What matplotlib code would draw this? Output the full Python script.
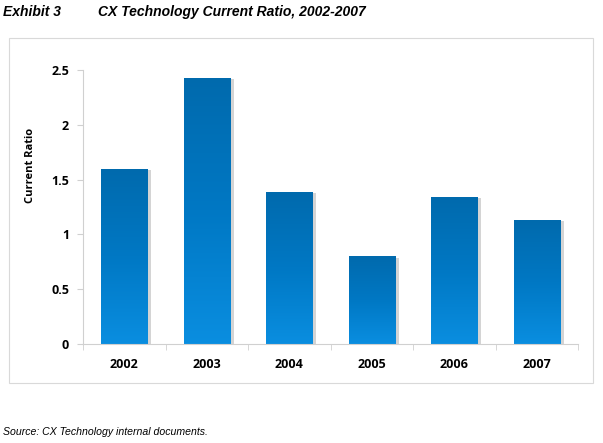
import matplotlib
matplotlib.use("Agg")
import matplotlib.pyplot as plt
import numpy as np
from matplotlib.colors import LinearSegmentedColormap
from matplotlib.patches import Rectangle

years = ["2002", "2003", "2004", "2005", "2006", "2007"]
ratios = [1.60, 2.43, 1.39, 0.80, 1.34, 1.13]

fig = plt.figure(figsize=(6.03, 4.43), dpi=100)
W, H = 603, 443

# outer frame round the chart
fig.patches.append(Rectangle((9 / W, 1 - 383 / H), 584 / W, 345 / H,
                             transform=fig.transFigure, fill=False,
                             edgecolor="#d9d9d9", linewidth=0.8))

ax = fig.add_axes([83 / W, 1 - 344 / H, 495 / W, 274 / H])

x = np.arange(len(years))
width = 0.56
cmap = LinearSegmentedColormap.from_list("blu", ["#0a8ee0", "#0078c4", "#006aad"])
grad = np.linspace(0, 1, 256).reshape(-1, 1)

# shadows
ax.bar(x + 0.045, np.array(ratios) - 0.012, width=width, color="#d4d4d4",
       zorder=1)
bars = ax.bar(x, ratios, width=width, color="none", edgecolor="#9fd3f2",
              linewidth=0.5, zorder=2)
for b in bars:
    x0, y0 = b.get_x(), b.get_y()
    im = ax.imshow(grad, cmap=cmap, origin="lower", aspect="auto",
                   extent=[x0, x0 + b.get_width(), y0, y0 + b.get_height()],
                   zorder=2)
    im.set_clip_path(b)

ax.set_xlim(-0.5, len(years) - 0.5)
ax.set_ylim(0, 2.5)
ax.set_yticks([0, 0.5, 1, 1.5, 2, 2.5])
ax.set_yticklabels(["0", "0.5", "1", "1.5", "2", "2.5"])
ax.set_xticks(x)
ax.set_xticklabels(years)
ax.set_xticks(np.arange(-0.5, len(years)), minor=True)
ax.tick_params(axis="x", which="major", length=0, pad=10)
ax.tick_params(axis="x", which="minor", length=4, color="#d0d0d0")
ax.tick_params(axis="y", length=4, color="#d0d0d0", pad=6)
for lab in ax.get_xticklabels() + ax.get_yticklabels():
    lab.set_fontfamily("Open Sans")
    lab.set_fontweight("bold")
    lab.set_fontsize(9)
ax.set_ylabel("Current Ratio", fontfamily="Open Sans", fontweight="bold",
              fontsize=8)
ax.yaxis.set_label_coords(-0.094, 0.653)
for s in ["top", "right"]:
    ax.spines[s].set_visible(False)
for s in ["left", "bottom"]:
    ax.spines[s].set_color("#d0d0d0")

fig.text(3 / W, 1 - 12 / H, "Exhibit 3", fontfamily="Liberation Sans",
         fontweight="bold", fontstyle="italic", fontsize=10, va="center")
fig.text(98 / W, 1 - 12 / H, "CX Technology Current Ratio, 2002-2007",
         fontfamily="Liberation Sans", fontweight="bold", fontstyle="italic",
         fontsize=10, va="center")
fig.text(3 / W, 1 - 432 / H, "Source: CX Technology internal documents.",
         fontfamily="Liberation Sans", fontstyle="italic", fontsize=7.6,
         va="center")

fig.savefig("out.png", dpi=100)
